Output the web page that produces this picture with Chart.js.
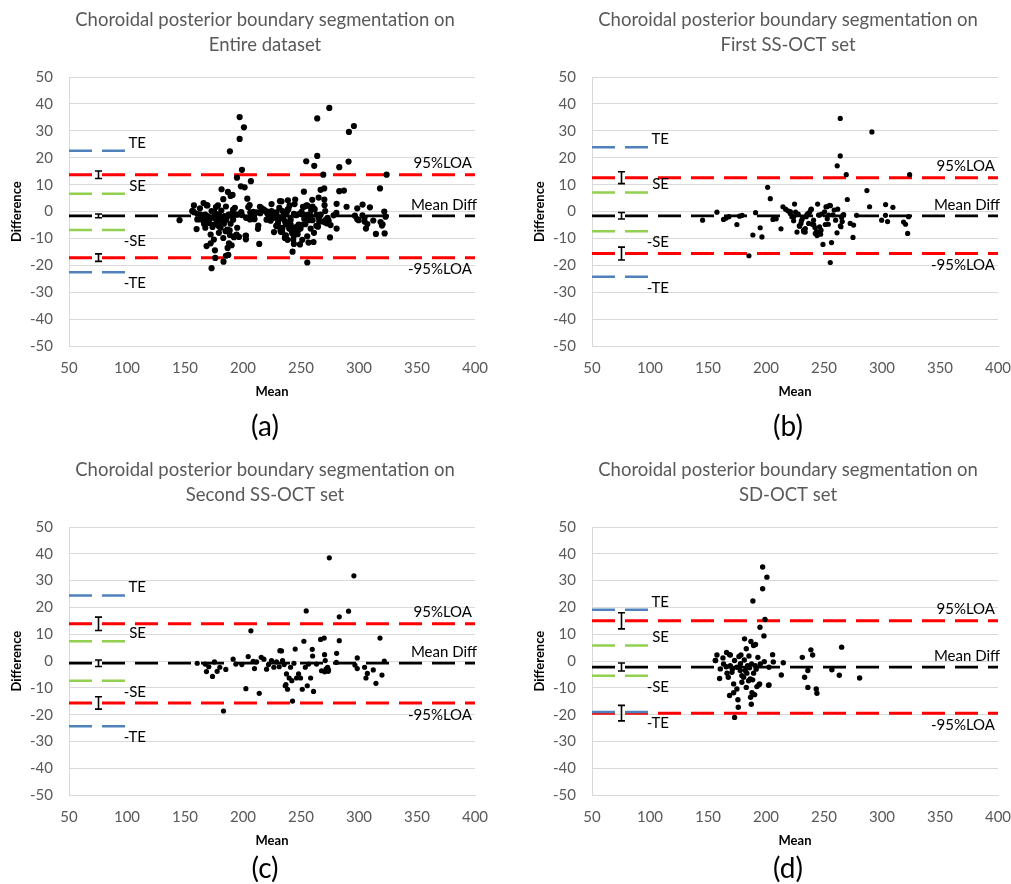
<!DOCTYPE html>
<html><head><meta charset="utf-8">
<script src="https://cdn.jsdelivr.net/npm/chart.js@4/dist/chart.umd.min.js"></script>
<style>
html,body{margin:0;padding:0;background:#fff;overflow:hidden;width:1011px;height:884px;}
.panel{position:absolute;}
canvas{display:block;}
</style></head><body>
<div class="panel" style="left:0;top:0"><canvas id="ca" width="530" height="442"></canvas></div>
<div class="panel" style="left:523px;top:0"><canvas id="cb" width="530" height="442"></canvas></div>
<div class="panel" style="left:0;top:450px"><canvas id="cc" width="530" height="434"></canvas></div>
<div class="panel" style="left:523px;top:450px"><canvas id="cd" width="530" height="434"></canvas></div>
<script>
// ---------- data (Mean, Difference) ----------
const firstSS = [[145.3,-3.2],[157.7,-0.2],[163.4,-2.9],[165.7,-2.4],[168.0,-1.9],[174.9,-4.8],[177.2,-1.7],[179.5,-1.4],[185.3,-16.4],[188.7,-8.7],[191.0,-0.4],[195.0,-6.0],[196.5,-9.4],[201.4,9.0],[203.7,4.8],[206.0,-2.9],[208.8,-2.7],[212.9,-6.4],[214.6,1.8],[216.9,0.9],[218.9,0.3],[220.9,-0.7],[222.3,-1.9],[223.8,-3.4],[224.6,2.8],[225.5,-0.2],[226.7,-7.6],[227.8,-0.9],[229.0,-5.4],[230.1,-4.4],[231.3,-2.7],[232.4,-6.9],[233.8,-7.6],[234.7,-1.9],[236.1,-0.7],[237.6,-0.2],[238.7,0.8],[239.9,-4.7],[241.0,-3.2],[242.2,-5.9],[243.6,-7.4],[244.5,2.8],[245.3,-1.3],[246.2,-5.7],[247.1,-8.4],[248.2,-0.9],[249.1,-12.2],[250.5,-0.1],[251.7,1.8],[252.8,-2.7],[253.7,-4.7],[254.8,2.3],[255.4,-18.9],[256.5,-11.5],[257.7,-1.2],[258.8,0.6],[260.0,-3.2],[264.0,34.6],[291.3,29.6],[264.0,20.7],[261.4,17.0],[269.2,13.7],[323.8,13.7],[287.0,7.8],[270.1,4.5],[289.3,1.8],[303.1,2.6],[309.4,1.6],[278.1,-1.4],[303.0,-1.4],[299.7,-3.2],[304.8,-3.7],[318.6,-3.9],[320.3,-4.7],[322.1,-8.1],[322.9,-1.9],[275.0,-9.6],[272.6,-4.4],[275.5,-5.0],[261.2,-7.9],[264.6,-5.6],[265.7,-3.7],[265.2,-2.2],[266.3,-1.3],[261.8,0.9],[264.1,-5.3],[267.0,-1.1],[221.0,0.0],[223.9,-1.9],[228.7,-5.3],[230.5,-3.4],[232.5,-7.5],[233.9,-6.3],[235.3,-1.1],[236.8,-4.4],[239.1,0.9],[241.1,-4.8],[242.5,-8.1],[244.0,-8.9],[246.3,-1.3],[247.4,-6.9],[251.1,-4.8],[252.6,1.8],[254.0,-1.3],[255.5,2.2]];
const secondSS = [[160.5,-0.8],[167.4,-1.1],[168.5,-3.9],[170.5,-2.1],[173.7,-5.7],[175.4,-0.3],[177.7,-3.8],[180.0,-2.3],[185.2,-3.1],[183.2,-18.6],[191.5,0.7],[193.8,-1.1],[199.0,-1.3],[202.5,-10.3],[204.5,1.7],[206.8,11.3],[208.8,-0.1],[209.9,-2.8],[211.7,-0.3],[214.0,-12.0],[215.7,1.4],[218.0,0.7],[220.3,-3.0],[222.0,-1.3],[224.6,0.2],[226.6,-2.3],[228.9,-0.3],[231.2,-2.1],[233.2,3.8],[234.1,0.2],[235.5,-1.3],[236.4,-9.2],[237.5,-4.8],[238.4,-10.5],[239.8,-6.3],[241.0,-2.3],[242.1,-7.3],[242.7,-14.9],[243.9,-0.8],[245.0,4.5],[246.2,-6.3],[247.9,-4.8],[249.6,-6.3],[251.1,-10.5],[252.5,7.4],[253.7,-2.3],[254.5,18.7],[255.4,-9.2],[256.5,-1.1],[258.3,-6.3],[259.7,4.4],[260.0,1.9],[260.8,-11.3],[263.4,-1.1],[266.9,8.1],[270.0,8.6],[270.3,2.4],[270.9,0.2],[267.7,-3.6],[271.5,-3.0],[273.8,-3.3],[272.9,-2.3],[280.7,2.9],[283.0,16.5],[283.0,7.6],[274.4,38.5],[295.6,31.8],[291.0,18.6],[318.1,8.6],[298.5,1.2],[304.8,-2.3],[312.3,-3.3],[307.2,-4.6],[306.0,-6.3],[314.6,-8.3],[319.8,-5.2],[321.8,0.0],[298.5,-2.8],[272.1,-3.0],[270.5,-4.0],[273.5,-3.8],[231.8,3.9],[237.0,-8.8],[280.5,-0.5],[296.5,-1.5]];
const sdOCT = [[197.1,35.1],[200.8,31.3],[197.1,27.0],[188.7,22.4],[199.1,15.5],[194.8,12.6],[198.2,9.4],[181.5,8.3],[187.0,7.3],[189.3,5.8],[191.0,6.2],[183.0,4.6],[166.0,3.2],[157.7,2.3],[178.4,2.3],[185.3,1.9],[193.0,1.4],[205.7,2.4],[206.3,-0.3],[214.9,-0.6],[231.3,1.4],[238.7,4.2],[240.2,2.3],[265.2,5.2],[236.1,-3.5],[233.3,-6.0],[236.1,-9.8],[243.3,-10.4],[243.9,-12.0],[256.8,-3.2],[263.2,-5.3],[280.7,-6.3],[213.2,-5.2],[202.2,-9.0],[193.9,-8.8],[192.2,-9.5],[187.9,-11.8],[190.2,-12.5],[186.7,-13.5],[187.3,-16.1],[175.8,-14.4],[176.1,-17.2],[172.9,-21.0],[168.6,-12.8],[172.1,-11.8],[160.0,-6.5],[156.5,0.2],[160.6,-2.9],[163.4,-1.1],[169.2,-1.7],[167.5,-6.0],[172.1,-8.5],[174.9,-10.4],[179.2,-7.9],[183.0,-9.8],[185.0,-7.3],[180.7,-6.0],[177.8,-3.5],[174.9,-2.3],[172.9,0.2],[176.7,1.7],[181.3,0.4],[184.1,-1.7],[182.1,-3.5],[187.6,-1.1],[190.7,-1.7],[195.1,-1.1],[198.5,-0.2],[189.3,-4.5],[186.4,-6.7],[179.2,-5.4],[170.6,-4.2],[165.7,-2.1],[162.9,1.2],[168.6,2.4],[202.6,-2.3],[202.6,-8.9],[194.5,-8.5],[156.3,0.2],[169.3,2.3],[166.4,-4.5],[171.0,-3.0],[178.0,-1.0],[183.5,-4.5],[185.8,-2.5],[188.5,-7.0],[191.5,-3.0]];
const entireSet = firstSS.concat(secondSS, sdOCT);

// per panel: [a, b, c, d]
const meanDiff   = [-1.6, -1.55, -0.8, -2.2];
const loaUpper   = [13.7, 12.6, 13.9, 15.0];
const loaLower   = [-17.1, -15.6, -15.6, -19.4];
const teUpper    = [22.6, 23.9, 24.5, 19.1];
const teLower    = [-22.5, -24.2, -24.3, -19.0];
const seUpper    = [6.6, 7.1, 7.4, 5.8];
const seLower    = [-6.8, -7.3, -7.3, -5.5];
const loaUpperCI = [1.4, 2.2, 2.5, 3.0];
const meanCI     = [0.7, 1.2, 1.2, 1.5];
const loaLowerCI = [1.4, 2.4, 2.3, 2.9];
const titleLine1 = 'Choroidal posterior boundary segmentation on';
const titleLine2 = ['Entire dataset', 'First SS-OCT set', 'Second SS-OCT set', 'SD-OCT set'];
const panelTags  = ['(a)', '(b)', '(c)', '(d)'];
const xRange = [50, 400], yRange = [-50, 50];
const errorBarX = 75, shortLineEnd = 100;

const FONT = "Lato, 'Open Sans', sans-serif";

const refPlugin = {
  id: 'refPlugin',
  afterDatasetsDraw(chart, args, opts) {
    const i = opts.idx;
    const {ctx, chartArea} = chart;
    const xs = chart.scales.x, ys = chart.scales.y;
    ctx.save();
    // error bars
    ctx.strokeStyle = '#000'; ctx.lineWidth = 1.6;
    const ex = Math.round(xs.getPixelForValue(errorBarX)) + 0.5;
    [[loaUpper[i], loaUpperCI[i]], [meanDiff[i], meanCI[i]], [loaLower[i], loaLowerCI[i]]].forEach(([v, h]) => {
      const y1 = ys.getPixelForValue(v + h), y2 = ys.getPixelForValue(v - h);
      ctx.beginPath();
      ctx.moveTo(ex, y1); ctx.lineTo(ex, y2);
      ctx.moveTo(ex - 3.5, y1); ctx.lineTo(ex + 3.5, y1);
      ctx.moveTo(ex - 3.5, y2); ctx.lineTo(ex + 3.5, y2);
      ctx.stroke();
    });
    // labels
    ctx.fillStyle = '#000';
    ctx.font = '15px ' + FONT;
    ctx.textBaseline = 'middle';
    ctx.textAlign = 'right';
    const sx = xs.getPixelForValue(shortLineEnd) + 19;
    ctx.fillText('TE', sx, ys.getPixelForValue(teUpper[i]) - 8);
    ctx.fillText('SE', sx, ys.getPixelForValue(seUpper[i]) - 8);
    ctx.fillText('-SE', sx, ys.getPixelForValue(seLower[i]) + 11);
    ctx.fillText('-TE', sx, ys.getPixelForValue(teLower[i]) + 11);
    ctx.fillText('95%LOA', chartArea.right - 3, ys.getPixelForValue(loaUpper[i]) - 12);
    ctx.fillText('Mean Diff', chartArea.right + 2, ys.getPixelForValue(meanDiff[i]) - 11);
    ctx.fillText('-95%LOA', chartArea.right - 3, ys.getPixelForValue(loaLower[i]) + 12);
    ctx.restore();
  }
};

function refLine(v, x0, x1, color, w) {
  return {
    type: 'scatter', showLine: true,
    data: [{x: x0, y: v}, {x: x1, y: v}],
    borderColor: color, borderWidth: w, borderDash: [23, 10],
    pointRadius: 0, pointHoverRadius: 0, fill: false
  };
}

function makePanel(id, i, pts, radius, subPadTop) {
  new Chart(document.getElementById(id), {
    type: 'scatter',
    data: {
      datasets: [
        { data: pts.map(p => ({x: p[0], y: p[1]})), backgroundColor: '#000', borderWidth: 0,
          pointRadius: radius, pointHoverRadius: radius },
        refLine(teUpper[i], xRange[0], shortLineEnd, '#4f81bd', 2.5),
        refLine(teLower[i], xRange[0], shortLineEnd, '#4f81bd', 2.5),
        refLine(seUpper[i], xRange[0], shortLineEnd, '#92d050', 2.5),
        refLine(seLower[i], xRange[0], shortLineEnd, '#92d050', 2.5),
        refLine(meanDiff[i], xRange[0], xRange[1], '#000000', 2.75),
        refLine(loaUpper[i], xRange[0], xRange[1], '#ff0000', 3),
        refLine(loaLower[i], xRange[0], xRange[1], '#ff0000', 3)
      ]
    },
    options: {
      responsive: false, animation: false, devicePixelRatio: 1,
      layout: { padding: { left: 0, right: 0, top: 0, bottom: 0 } },
      scales: {
        x: {
          type: 'linear', min: xRange[0], max: xRange[1],
          ticks: { stepSize: 50, color: '#595959', font: { family: FONT, size: 15 }, padding: 13 },
          grid: { display: false, drawTicks: false },
          border: { color: '#d9d9d9' },
          title: { display: true, text: 'Mean', color: '#000', font: { family: FONT, size: 13, weight: 'bold' },
                   padding: { top: 0, bottom: 5 } },
          afterFit: s => { s.height = 58; }
        },
        y: {
          min: yRange[0], max: yRange[1],
          ticks: { stepSize: 10, color: '#595959', font: { family: FONT, size: 15 }, padding: 16 },
          grid: { color: '#d9d9d9', drawTicks: false },
          border: { color: '#d9d9d9' },
          title: { display: true, text: 'Difference', color: '#000', font: { family: FONT, size: 13, weight: 'bold' },
                   padding: { top: 9, bottom: 0 } },
          afterFit: s => { s.width = 69; }
        },
        yRightSpace: {
          position: 'right', min: yRange[0], max: yRange[1],
          ticks: { display: false }, grid: { display: false, drawTicks: false },
          border: { display: false }, title: { display: false },
          afterFit: s => { s.width = 55; }
        }
      },
      plugins: {
        legend: { display: false },
        tooltip: { enabled: false },
        title: { display: true, text: [titleLine1, titleLine2[i]], color: '#595959',
                 font: { family: FONT, size: 18.5, weight: 'normal', lineHeight: 25 / 18.5 },
                 padding: { top: 7.5, bottom: 19.5 } },
        subtitle: { display: true, position: 'bottom', text: panelTags[i], color: '#000',
                    font: { family: FONT, size: 28, weight: 'normal', lineHeight: 1.1 },
                    padding: { top: subPadTop, bottom: 0 } },
        refPlugin: { idx: i }
      }
    },
    plugins: [refPlugin]
  });
}

makePanel('ca', 0, entireSet, 3.1, 7);
makePanel('cb', 1, firstSS, 2.6, 7);
makePanel('cc', 2, secondSS, 2.6, 0);
makePanel('cd', 3, sdOCT, 2.7, 0);
</script>
</body></html>
